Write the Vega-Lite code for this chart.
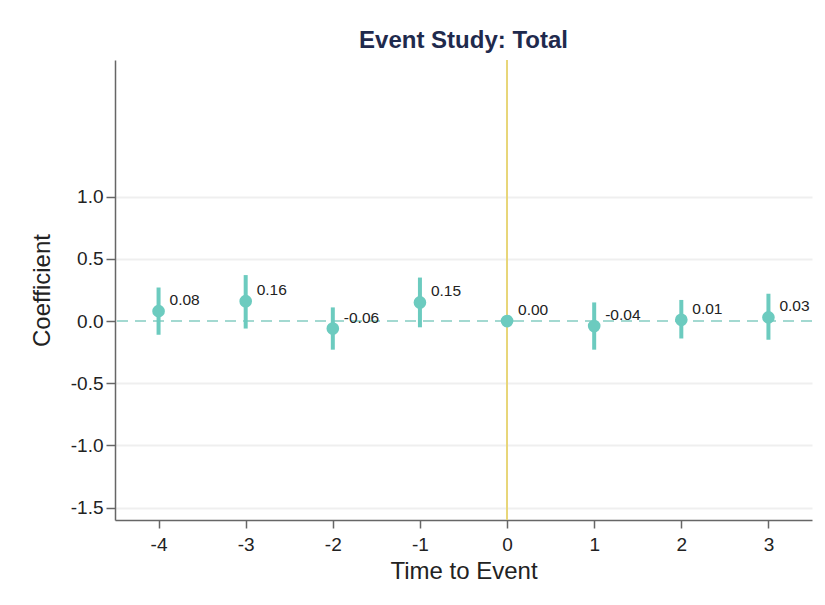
{
  "$schema": "https://vega.github.io/schema/vega-lite/v6.json",
  "width": 697,
  "height": 460,
  "autosize": {"type": "none"},
  "padding": {"left": 115, "top": 60, "right": 13, "bottom": 85},
  "background": "white",
  "title": {"text": "Event Study: Total", "anchor": "middle", "fontSize": 24, "fontWeight": "bold", "color": "#1f2a4d", "font": "Liberation Sans", "offset": 6},
  "config": {
    "font": "Liberation Sans",
    "view": {"stroke": null},
    "axis": {"labelFont": "Liberation Sans", "titleFont": "Liberation Sans", "labelColor": "#222", "titleColor": "#222", "domainColor": "#666", "tickColor": "#666", "domainWidth": 1.5, "tickWidth": 1.5}
  },
  "data": {"values": [
    {"t": -4, "coef": 0.08, "lo": -0.11, "hi": 0.27, "label": "0.08"},
    {"t": -3, "coef": 0.16, "lo": -0.06, "hi": 0.37, "label": "0.16"},
    {"t": -2, "coef": -0.06, "lo": -0.23, "hi": 0.11, "label": "-0.06"},
    {"t": -1, "coef": 0.15, "lo": -0.05, "hi": 0.35, "label": "0.15"},
    {"t": 0, "coef": 0.0, "lo": 0.0, "hi": 0.0, "label": "0.00"},
    {"t": 1, "coef": -0.04, "lo": -0.23, "hi": 0.15, "label": "-0.04"},
    {"t": 2, "coef": 0.01, "lo": -0.14, "hi": 0.17, "label": "0.01"},
    {"t": 3, "coef": 0.03, "lo": -0.15, "hi": 0.22, "label": "0.03"}
  ]},
  "encoding": {
    "x": {"field": "t", "type": "quantitative", "scale": {"domain": [-4.5, 3.5], "nice": false, "zero": false},
      "axis": {"values": [-4, -3, -2, -1, 0, 1, 2, 3], "title": "Time to Event", "labelFontSize": 19, "titleFontSize": 24, "titleFontWeight": "normal", "grid": false, "tickSize": 8, "labelPadding": 7, "titlePadding": 5,
        "labelExpr": "replace(format(datum.value, 'd'), '\u2212', '-')"}},
    "y": {"field": "coef", "type": "quantitative", "scale": {"domain": [-1.6, 2.1], "nice": false, "zero": false},
      "axis": {"values": [-1.5, -1, -0.5, 0, 0.5, 1], "title": "Coefficient", "labelFontSize": 19, "titleFontSize": 24, "titleFontWeight": "normal", "tickSize": 9, "labelPadding": 3, "titlePadding": 16,
        "grid": true, "gridColor": {"condition": {"test": "datum.value === 0", "value": "transparent"}, "value": "#efefef"}, "gridWidth": 2,
        "labelExpr": "replace(format(datum.value, '.1f'), '\u2212', '-')"}}
  },
  "layer": [
    {"mark": {"type": "rule", "color": "#e8d67a", "strokeWidth": 1.5}, "encoding": {"x": {"datum": 0}, "y": null}},
    {"mark": {"type": "rule", "color": "#a3d9d1", "strokeWidth": 2, "strokeDash": [11, 7]}, "encoding": {"y": {"datum": 0}, "x": null}},
    {"transform": [{"filter": "datum.t !== 0"}], "mark": {"type": "rule", "color": "#6ccbbf", "strokeWidth": 4}, "encoding": {"y": {"field": "lo", "type": "quantitative"}, "y2": {"field": "hi"}}},
    {"mark": {"type": "point", "filled": true, "color": "#6ccbbf", "opacity": 1, "size": 160}},
    {"mark": {"type": "text", "align": "left", "baseline": "middle", "dx": 11, "dy": -11, "fontSize": 15.5, "color": "#222"}, "encoding": {"text": {"field": "label"}}}
  ]
}
